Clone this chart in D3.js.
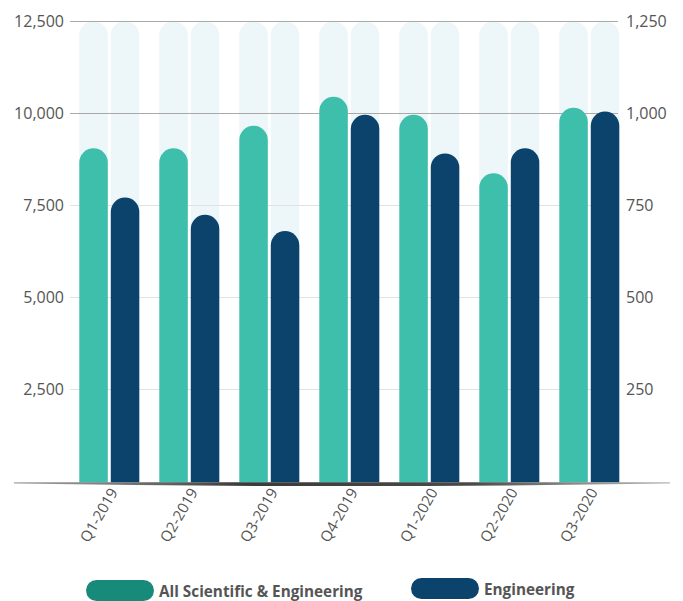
<!DOCTYPE html>
<html>
<head>
<meta charset="utf-8">
<script src="https://cdn.jsdelivr.net/npm/d3@7"></script>
<style>
  body { margin: 0; background: #fff; }
  svg { display: block; font-family: "Open Sans", sans-serif; }
</style>
</head>
<body>
<svg id="chart" width="683" height="601"></svg>
<script>
// data
var categories = ["Q1-2019", "Q2-2019", "Q3-2019", "Q4-2019", "Q1-2020", "Q2-2020", "Q3-2020"];
var seriesNames = ["All Scientific & Engineering", "Engineering"];
var allSciEng = [9050, 9050, 9660, 10450, 9960, 8370, 10150];   // left axis
var engineering = [771, 724, 680, 996, 891, 905, 1005];          // right axis
var leftTicks = [2500, 5000, 7500, 10000, 12500];
var rightTicks = [250, 500, 750, 1000, 1250];

var colors = { green: "#3ebfab", navy: "#0b436d", pale: "#edf6f8", legendGreen: "#178a7a" };

var svg = d3.select("#chart");

var y = d3.scaleLinear().domain([0, 12500]).range([481.3, 21.3]);
var y2 = d3.scaleLinear().domain([0, 1250]).range([481.3, 21.3]);

var x = d3.scaleBand().domain(categories).range([69.3, 629.3])
    .paddingInner(0.25).paddingOuter(0.125);
var xs = d3.scaleBand().domain(seriesNames).range([0, x.bandwidth()])
    .paddingInner(0.095);

function roundTop(x0, w, top, base) {
    var r = w / 2;
    return "M" + x0 + "," + base +
        "V" + (top + r) +
        "A" + r + "," + r + " 0 0 1 " + (x0 + w) + "," + (top + r) +
        "V" + base + "Z";
}

var rows = categories.map(function(c, i) {
    return { cat: c, vals: [
        { s: seriesNames[0], top: y(allSciEng[i]), color: colors.green },
        { s: seriesNames[1], top: y2(engineering[i]), color: colors.navy }
    ]};
});

// pale background bars
var groups = svg.append("g").selectAll("g").data(rows).join("g")
    .attr("transform", function(d) { return "translate(" + x(d.cat) + ",0)"; });

groups.selectAll("path.bg").data(function(d) { return d.vals; }).join("path")
    .attr("class", "bg")
    .attr("fill", colors.pale)
    .attr("d", function(d) { return roundTop(xs(d.s), xs.bandwidth(), y(12500), y(0)); });

// gridlines
svg.append("g").selectAll("line").data(leftTicks).join("line")
    .attr("x1", 70).attr("x2", 618)
    .attr("y1", function(d) { return Math.round(y(d)) + 0.5; })
    .attr("y2", function(d) { return Math.round(y(d)) + 0.5; })
    .attr("stroke", function(d) { return d >= 10000 ? "#a9a9a9" : "#e2e2e2"; })
    .attr("stroke-width", 1.2);

// value bars
var bars = svg.append("g").selectAll("g").data(rows).join("g")
    .attr("transform", function(d) { return "translate(" + x(d.cat) + ",0)"; });

bars.selectAll("path.bar").data(function(d) { return d.vals; }).join("path")
    .attr("class", "bar")
    .attr("fill", function(d) { return d.color; })
    .attr("d", function(d) { return roundTop(xs(d.s), xs.bandwidth(), d.top, y(0) + 1); });

// baseline with shadow
var defs = svg.append("defs");
var grad = defs.append("linearGradient").attr("id", "baseGrad");
grad.append("stop").attr("offset", "0%").attr("stop-color", "#666").attr("stop-opacity", 0.6);
grad.append("stop").attr("offset", "35%").attr("stop-color", "#3a3a3a");
grad.append("stop").attr("offset", "70%").attr("stop-color", "#4a4a4a");
grad.append("stop").attr("offset", "100%").attr("stop-color", "#888").attr("stop-opacity", 0.6);

svg.append("path")
    .attr("fill", "url(#baseGrad)")
    .attr("d", "M14,482.2 L670,482.2 L670,483.6 Q340,488.5 14,483.6 Z");

// left axis labels
svg.append("g").selectAll("text").data(leftTicks).join("text")
    .attr("x", 64)
    .attr("y", function(d) { return y(d) + 6; })
    .attr("text-anchor", "end")
    .attr("font-size", 16)
    .attr("fill", "#555")
    .text(function(d) { return d3.format(",")(d); });

// right axis labels
svg.append("g").selectAll("text").data(rightTicks).join("text")
    .attr("x", 626)
    .attr("y", function(d) { return y2(d) + 6; })
    .attr("text-anchor", "start")
    .attr("font-size", 16)
    .attr("fill", "#555")
    .text(function(d) { return d3.format(",")(d); });

// x labels
svg.append("g").selectAll("text").data(categories).join("text")
    .attr("transform", function(d) {
        return "translate(" + (x(d) + x.bandwidth() / 2 + 9) + ",492) rotate(-60)";
    })
    .attr("text-anchor", "end")
    .attr("font-size", 15)
    .attr("fill", "#555")
    .text(function(d) { return d; });

// legend
var legendItems = [
    { name: seriesNames[0], color: colors.legendGreen, x: 86, y: 580 },
    { name: seriesNames[1], color: colors.navy, x: 411, y: 578 }
];
var lg = svg.append("g").selectAll("g").data(legendItems).join("g")
    .attr("transform", function(d) { return "translate(" + d.x + "," + d.y + ")"; });
lg.append("rect")
    .attr("width", 68).attr("height", 21).attr("rx", 10.5)
    .attr("fill", function(d) { return d.color; });
lg.append("text")
    .attr("x", 73).attr("y", 17)
    .attr("font-size", 15.3).attr("font-weight", "bold")
    .attr("fill", "#555")
    .text(function(d) { return d.name; });
</script>
</body>
</html>
